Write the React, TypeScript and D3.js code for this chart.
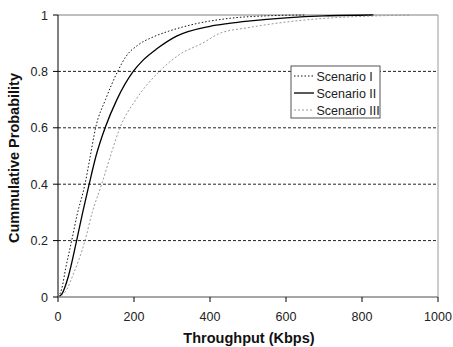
import React from 'react';
import * as d3 from 'd3';

// Scenario I (dotted)
const throughputI = [0, 10, 20, 36, 50, 71, 85, 99, 125, 157, 180, 210, 250, 290, 350, 450, 550, 650];
const cdfI = [0, 0.03, 0.1, 0.2, 0.29, 0.4, 0.5, 0.6, 0.7, 0.8, 0.855, 0.893, 0.922, 0.942, 0.965, 0.988, 0.997, 1];
// Scenario II (solid)
const throughputII = [0, 10, 27, 49, 65, 82, 100, 124, 155, 198, 224, 260, 312, 400, 450, 500, 600, 700, 830];
const cdfII = [0, 0.01, 0.072, 0.2, 0.3, 0.4, 0.5, 0.6, 0.7, 0.8, 0.84, 0.88, 0.925, 0.96, 0.97, 0.978, 0.99, 0.997, 1];
// Scenario III (light dotted)
const throughputIII = [0, 20, 40, 71, 90, 115, 138, 163, 205, 267, 320, 380, 426, 500, 600, 700, 800, 926];
const cdfIII = [0, 0.02, 0.08, 0.2, 0.3, 0.4, 0.5, 0.6, 0.7, 0.8, 0.86, 0.9, 0.935, 0.955, 0.975, 0.988, 0.995, 1];

const seriesNames = ['Scenario I', 'Scenario II', 'Scenario III'];
const xTicks = [0, 200, 400, 600, 800, 1000];
const yTicks = [0, 0.2, 0.4, 0.6, 0.8, 1];

const font = 'Liberation Sans, Arial, sans-serif';

const App = () => {
  const width = 453;
  const height = 347;
  const margin = { left: 58, right: 15, top: 15, bottom: 50 };

  const x = d3.scaleLinear().domain([0, 1000]).range([margin.left, width - margin.right]);
  const y = d3.scaleLinear().domain([0, 1]).range([height - margin.bottom, margin.top]);

  const line = d3.line<[number, number]>()
    .x(d => x(d[0]))
    .y(d => y(d[1]))
    .curve(d3.curveMonotoneX);

  const series = [
    { pts: throughputI.map((v, i) => [v, cdfI[i]] as [number, number]), stroke: '#111', width: 1, dash: '1.5,2' },
    { pts: throughputII.map((v, i) => [v, cdfII[i]] as [number, number]), stroke: '#000', width: 1.3, dash: null },
    { pts: throughputIII.map((v, i) => [v, cdfIII[i]] as [number, number]), stroke: '#999', width: 1, dash: '2,2' },
  ];

  const x0 = x(0), x1 = x(1000), y0 = y(0), y1 = y(1);

  return (
    <svg width={width} height={height} style={{ position: 'absolute', left: 0, top: 0, background: '#fff' }}>
      {/* dashed gridlines */}
      {yTicks.filter(t => t > 0 && t < 1).map(t => (
        <line key={t} x1={x0} x2={x1} y1={y(t)} y2={y(t)} stroke="#222" strokeDasharray="3,2" strokeWidth={1} />
      ))}
      {/* plot frame: top & right gray */}
      <line x1={x0} x2={x1} y1={y1} y2={y1} stroke="#aaa" strokeWidth={1.5} />
      <line x1={x1} x2={x1} y1={y1} y2={y0} stroke="#999" strokeWidth={1} />
      {/* bottom axis */}
      <line x1={x0} x2={x1} y1={y0} y2={y0} stroke="#888" strokeWidth={1.5} />
      {xTicks.map(t => (
        <g key={t}>
          <line x1={x(t)} x2={x(t)} y1={y0} y2={y0 + 5} stroke="#000" />
          <text x={x(t)} y={y0 + 24} textAnchor="middle" fontFamily={font} fontSize={12.5} fill="#222">{t}</text>
        </g>
      ))}
      {/* left axis */}
      <line x1={x0} x2={x0} y1={y1} y2={y0} stroke="#000" strokeWidth={1} />
      {yTicks.map(t => (
        <g key={t}>
          <line x1={x0 - 5} x2={x0} y1={y(t)} y2={y(t)} stroke="#000" />
          <text x={x0 - 10} y={y(t) + 4.5} textAnchor="end" fontFamily={font} fontSize={12.5} fill="#222">{t}</text>
        </g>
      ))}
      {/* curves */}
      {series.map((s, i) => (
        <path key={i} d={line(s.pts) || ''} fill="none" stroke={s.stroke} strokeWidth={s.width}
          strokeDasharray={s.dash || undefined} />
      ))}
      {/* legend */}
      <g transform="translate(291,66)">
        <rect x={0} y={0} width={89} height={52} fill="#fff" stroke="#555" strokeWidth={1} />
        {seriesNames.map((n, i) => (
          <g key={n} transform={`translate(0,${10 + i * 17})`}>
            <line x1={3} x2={23} y1={0} y2={0} stroke={series[i].stroke} strokeWidth={series[i].width}
              strokeDasharray={series[i].dash || undefined} />
            <text x={25.5} y={4.5} fontFamily={font} fontSize={12.5} fill="#222">{n}</text>
          </g>
        ))}
      </g>
      {/* axis titles */}
      <text x={249} y={343} textAnchor="middle" fontFamily={font} fontSize={14.5} fontWeight="bold" fill="#111">
        Throughput (Kbps)
      </text>
      <text transform={`translate(19,158) rotate(-90)`} textAnchor="middle" fontFamily={font} fontSize={14.5}
        fontWeight="bold" fill="#111">
        Cummulative Probability
      </text>
    </svg>
  );
};

export default App;
